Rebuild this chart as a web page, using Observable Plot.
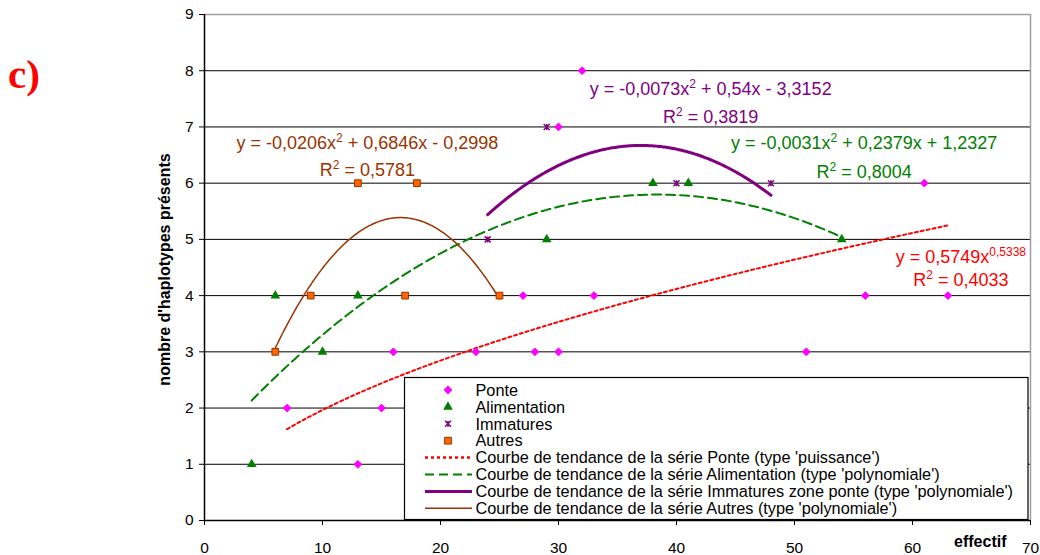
<!DOCTYPE html>
<html>
<head>
<meta charset="utf-8">
<script src="https://cdn.jsdelivr.net/npm/d3@7"></script>
<script src="https://cdn.jsdelivr.net/npm/@observablehq/plot@0.6"></script>
<style>
  body { margin: 0; background: #fff; font-family: "Liberation Sans", Arial, sans-serif; }
  #wrap { position: relative; width: 1040px; height: 555px; }
  #tag { position: absolute; left: 8px; top: 54px; font: bold 41px "Liberation Serif", "Times New Roman", serif; color: #ff0000; line-height: 40px; }
</style>
</head>
<body>
<div id="wrap"><div id="tag">c)</div></div>
<script>
// ---- data ----
const ponteX = [32, 30, 61, 27, 33, 56, 63, 16, 23, 28, 30, 51, 7, 15, 13];
const ponteY = [8, 7, 6, 4, 4, 4, 4, 3, 3, 3, 3, 3, 2, 2, 1];
const alimX = [4, 6, 10, 13, 29, 38, 41, 54];
const alimY = [1, 4, 3, 4, 5, 6, 6, 5];
const immX = [29, 24, 40, 48];
const immY = [7, 5, 6, 6];
const autresX = [13, 18, 6, 9, 17, 25];
const autresY = [6, 6, 3, 4, 4, 4];

// trend-line coefficients as printed on the chart
const ponteCoef = [0.5749, 0.5338];               // power  a*x^b
const alimCoef = [-0.0031, 0.2379, 1.2327];       // poly   a x² + b x + c
const immCoef = [-0.0073, 0.54, -3.3152];
const autresCoef = [-0.0206, 0.6846, -0.2998];

const seriesNames = ["Ponte", "Alimentation", "Immatures", "Autres"];
const trendNames = [
  "Courbe de tendance de la série Ponte (type 'puissance')",
  "Courbe de tendance de la série Alimentation (type 'polynomiale')",
  "Courbe de tendance de la série Immatures zone ponte (type 'polynomiale')",
  "Courbe de tendance de la série Autres (type 'polynomiale')"
];
const eqLabels = [
  "y = -0,0073x^{2} + 0,54x - 3,3152", "R^{2} = 0,3819",
  "y = -0,0206x^{2} + 0,6846x - 0,2998", "R^{2} = 0,5781",
  "y = -0,0031x^{2} + 0,2379x + 1,2327", "R^{2} = 0,8004",
  "y = 0,5749x^{0,5338}", "R^{2} = 0,4033"
];
const xTicks = [0, 10, 20, 30, 40, 50, 60, 70];
const yTicks = [0, 1, 2, 3, 4, 5, 6, 7, 8, 9];
const xLabel = "effectif";
const yLabel = "nombre d'haplotypes présents";

// ---- helpers ----
const zip = (xs, ys) => xs.map((x, i) => ({x, y: ys[i]}));
const poly = c => x => c[0] * x * x + c[1] * x + c[2];
const power = c => x => c[0] * Math.pow(x, c[1]);
function trend(xs, f) {
  const [a, b] = d3.extent(xs);
  return d3.range(0, 201).map(i => { const x = a + (b - a) * i / 200; return {x, y: f(x)}; });
}
const diamondSym = { draw(ctx, size) { const h = Math.sqrt(size / 2); ctx.moveTo(0, -h); ctx.lineTo(h, 0); ctx.lineTo(0, h); ctx.lineTo(-h, 0); ctx.closePath(); } };
const starSym = { draw(ctx, size) { const h = Math.sqrt(size / Math.PI); ctx.moveTo(-h, -h); ctx.lineTo(h, h); ctx.moveTo(h, -h); ctx.lineTo(-h, h); ctx.moveTo(0, -h); ctx.lineTo(0, h); } };

const C = { ponte: "#ff00ff", alim: "#008000", imm: "#800080", autres: "#ff6600", autresEdge: "#993300", red: "#ff0000", brown: "#993300" };

const eqPos = [
  {x: 42.9, y: 7.67, c: C.imm}, {x: 42.9, y: 7.17, c: C.imm},
  {x: 13.8, y: 6.71, c: C.brown}, {x: 13.8, y: 6.23, c: C.brown},
  {x: 55.9, y: 6.71, c: C.alim}, {x: 55.9, y: 6.19, c: C.alim},
  {x: 64.1, y: 4.68, c: C.red}, {x: 64.1, y: 4.27, c: C.red}
];
const eqData = eqLabels.map((t, i) => ({t, ...eqPos[i]}));

const svgPlot = Plot.plot({
  width: 1040, height: 555,
  marginLeft: 204, marginRight: 10, marginTop: 14, marginBottom: 35,
  x: {domain: [0, 70]},
  y: {domain: [0, 9]},
  style: {fontFamily: "'Liberation Sans', Arial, sans-serif", fontSize: "15.5px", color: "#000", background: "transparent"},
  marks: [
    Plot.ruleY(yTicks.filter(v => v > 0 && v < 9), {stroke: "#000", strokeWidth: 1}),
    Plot.ruleY([9], {stroke: "#a0a0a0", strokeWidth: 1.5}),
    Plot.ruleX([70], {stroke: "#a0a0a0", strokeWidth: 1.5}),
    Plot.line(trend(ponteX, power(ponteCoef)), {x: "x", y: "y", stroke: C.red, strokeWidth: 2, strokeDasharray: "3,3"}),
    Plot.line(trend(alimX, poly(alimCoef)), {x: "x", y: "y", stroke: C.alim, strokeWidth: 2, strokeDasharray: "9,5"}),
    Plot.line(trend(immX, poly(immCoef)), {x: "x", y: "y", stroke: C.imm, strokeWidth: 3}),
    Plot.line(trend(autresX, poly(autresCoef)), {x: "x", y: "y", stroke: C.brown, strokeWidth: 1.5}),
    Plot.dot(zip(ponteX, ponteY), {x: "x", y: "y", symbol: diamondSym, r: 3.5, fill: C.ponte}),
    Plot.dot(zip(alimX, alimY), {x: "x", y: "y", symbol: "triangle", r: 3.6, fill: C.alim}),
    Plot.dot(zip(immX, immY), {x: "x", y: "y", symbol: starSym, r: 3, fill: "none", stroke: C.imm, strokeWidth: 1.5}),
    Plot.dot(zip(autresX, autresY), {x: "x", y: "y", symbol: "square", r: 3.8, fill: C.autres, stroke: C.autresEdge, strokeWidth: 1}),
    ...d3.groups(eqData, d => d.c).map(([c, rows]) =>
      Plot.text(rows, {x: "x", y: "y", text: "t", fill: c, fontSize: 18, textAnchor: "middle"})),
    Plot.axisX({ticks: xTicks, tickSize: 5, tickPadding: 16, label: null, fontSize: 15.5}),
    Plot.axisY({ticks: yTicks, tickSize: 5, tickPadding: 6, label: null, fontSize: 15.5}),
    Plot.ruleX([0], {stroke: "#000", strokeWidth: 1.5}),
    Plot.ruleY([0], {stroke: "#000", strokeWidth: 1.5}),
    Plot.text([xLabel], {frameAnchor: "bottom-right", text: d => d, textAnchor: "end", dx: -24, dy: 26, fontWeight: "bold", fontSize: 16}),
    Plot.text([yLabel], {frameAnchor: "left", text: d => d, rotate: -90, textAnchor: "middle", dx: -40, dy: 2, fontWeight: "bold", fontSize: 16})
  ]
});

// superscripts
d3.select(svgPlot).selectAll("text").each(function () {
  const t = this.textContent;
  if (!t.includes("^{")) return;
  const parts = t.split(/\^\{([^}]*)\}/);
  const sel = d3.select(this);
  sel.text(null);
  let raised = false;
  parts.forEach((p, i) => {
    if (i % 2 === 1) {
      sel.append("tspan").attr("dy", -7).attr("font-size", 12).text(p);
      raised = true;
    } else if (p) {
      const ts = sel.append("tspan").text(p);
      if (raised) { ts.attr("dy", 7); raised = false; }
    }
  });
});

// legend (inside the plot area, pixel layout like the original)
const lg = d3.select(svgPlot).append("g").attr("font-size", 16.3).attr("fill", "#000").attr("text-anchor", "start");
lg.append("rect").attr("x", 404.5).attr("y", 377.5).attr("width", 623.5).attr("height", 142)
  .attr("fill", "#fff").attr("stroke", "#000").attr("stroke-width", 1.2);
const rowY = i => 390 + i * 16.9;
const symX = 448, txtX = 475.5;
const symDefs = [
  {type: diamondSym, r: 3.5, fill: C.ponte, stroke: "none", sw: 0},
  {type: d3.symbolTriangle, r: 3.6, fill: C.alim, stroke: "none", sw: 0},
  {type: starSym, r: 3, fill: "none", stroke: C.imm, sw: 1.5},
  {type: d3.symbolSquare, r: 3.8, fill: C.autres, stroke: C.autresEdge, sw: 1}
];
seriesNames.forEach((n, i) => {
  const s = symDefs[i];
  lg.append("path").attr("transform", `translate(${symX},${rowY(i)})`)
    .attr("d", d3.symbol(s.type, Math.PI * s.r * s.r)())
    .attr("fill", s.fill).attr("stroke", s.stroke).attr("stroke-width", s.sw);
  lg.append("text").attr("x", txtX).attr("y", rowY(i)).attr("dy", "0.35em").text(n);
});
const lineDefs = [
  {stroke: C.red, w: 2.5, dash: "3,3"},
  {stroke: C.alim, w: 2, dash: "9,5"},
  {stroke: C.imm, w: 3, dash: null},
  {stroke: C.brown, w: 1.5, dash: null}
];
trendNames.forEach((n, j) => {
  const i = j + 4, d = lineDefs[j];
  lg.append("line").attr("x1", 425).attr("x2", 472).attr("y1", rowY(i)).attr("y2", rowY(i))
    .attr("stroke", d.stroke).attr("stroke-width", d.w).attr("stroke-dasharray", d.dash);
  lg.append("text").attr("x", txtX).attr("y", rowY(i)).attr("dy", "0.35em").text(n);
});

document.getElementById("wrap").prepend(svgPlot);
</script>
</body>
</html>
